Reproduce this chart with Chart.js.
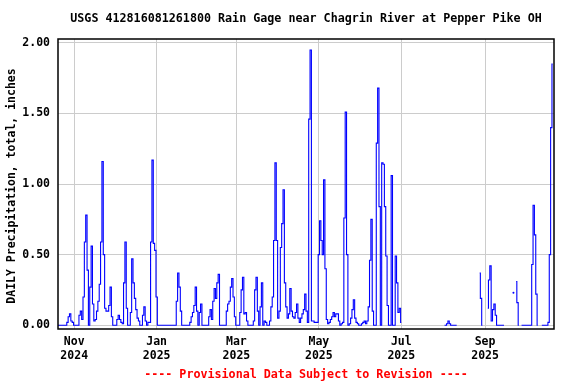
<!DOCTYPE html>
<html><head><meta charset="utf-8">
<script src="https://cdn.jsdelivr.net/npm/chart.js@4.4.1/dist/chart.umd.min.js"></script>
<style>html,body{margin:0;padding:0;background:#fff;}canvas{display:block;}</style>
</head><body>
<canvas id="c" width="576" height="384"></canvas>
<script>
const chartTitle = 'USGS 412816081261800 Rain Gage near Chagrin River at Pepper Pike OH';
const yAxisTitle = 'DAILY Precipitation, total, inches';
const footerNote = '---- Provisional Data Subject to Revision ----';

// Daily precipitation (inches), first value = 2024-10-20; null = no data
const oct2024 = [0,0,0,0,0,0,0,0.02,0.06,0.08,0.03,0.02];
const nov2024 = [0,0,0,0,0.07,0.1,0.04,0.2,0.59,0.78,0.39,0,0.27,0.56,0.15,0.03,0.04,0.1,0.17,0.29,0.59,1.16,0.5,0.12,0.1,0.1,0.14,0.27,0.06,0];
const dec2024 = [0,0,0.04,0.07,0.04,0.02,0.01,0.3,0.59,0.12,0,0,0.09,0.47,0.3,0.19,0.11,0.05,0.03,0,0,0.07,0.13,0.03,0,0.02,0.02,0.59,1.17,0.58,0.53];
const jan2025 = [0.2,0,0,0,0,0,0,0,0,0,0,0,0,0,0,0.17,0.37,0.27,0.1,0,0,0,0,0,0,0.02,0.06,0.09,0.14,0.27,0.1];
const feb2025 = [0,0.09,0.15,0,0,0,0,0,0.06,0.11,0.04,0.17,0.26,0.19,0.3,0.36,0,0,0,0,0,0.1,0.15,0.17,0.27,0.33,0.2,0.06];
const mar2025 = [0,0,0,0.09,0.25,0.34,0.08,0.09,0.03,0,0,0,0,0.03,0.25,0.34,0.1,0,0.13,0.3,0,0.03,0.02,0,0,0.03,0.13,0.2,0.6,1.15,0.6];
const apr2025 = [0.05,0.1,0.55,0.72,0.96,0.3,0.13,0.05,0.08,0.26,0.1,0.06,0.05,0.09,0.15,0.05,0.02,0.05,0.08,0.11,0.22,0.1,0.02,1.46,1.95,0.03,0.03,0.02,0.02,0.02];
const may2025 = [0.5,0.74,0.6,0.5,1.03,0.4,0.04,0.01,0.02,0.04,0.06,0.09,0.06,0.08,0.08,0.03,0,0.01,0.02,0.76,1.51,0.5,0,0.01,0.05,0.11,0.18,0.05,0.02,0.01,0];
const jun2025 = [0,0.01,0.02,0.03,0.01,0.03,0.13,0.46,0.75,0.1,0,0,1.29,1.68,0.84,0,1.15,1.14,0.84,0.49,0.14,0,0,1.06,0,0,0.49,0.3,0.09,0.12];
const jul2025 = [0.02,null,null,null,null,null,null,null,null,null,null,null,null,null,null,null,null,null,null,null,null,null,null,null,null,null,null,null,null,null,null];
const aug2025 = [null,0,0,0.01,0.03,0.01,0,0,0,0,0,null,null,null,null,null,null,null,null,null,null,null,null,null,null,null,null,0.37,0.19,0,null];
const sep2025 = [null,null,0.12,0.32,0.42,0.03,0.11,0.15,0.07,0,0,0,0,0,0,null,null,null,null,null,null,0.23,null,0.31,0.16,0,null,0,0,0];
const oct2025 = [0,0,0,0,0,0.43,0.85,0.64,0.22,0,null,null,0,0,0,0,0,0.02,0.5,1.4,1.85];

const monthTickDates = [[2024,10],[2025,0],[2025,2],[2025,4],[2025,6],[2025,8]];
const monthTickLabels = [['Nov','2024'],['Jan','2025'],['Mar','2025'],['May','2025'],['Jul','2025'],['Sep','2025']];
const yTickValues = [0, 0.5, 1, 1.5, 2];

const DAY = 86400000;
const origin = Date.UTC(2024, 10, 1);
const seriesStart = (Date.UTC(2024, 9, 20) - origin) / DAY;
const values = [].concat(oct2024, nov2024, dec2024, jan2025, feb2025, mar2025, apr2025, may2025, jun2025, jul2025, aug2025, sep2025, oct2025);
const points = values.map((v, i) => ({x: seriesStart + i, y: v}));
const tickDays = monthTickDates.map(([y, m]) => (Date.UTC(y, m, 1) - origin) / DAY);

const MONO = '"DejaVu Sans Mono", "Liberation Mono", monospace';

const decor = {
  id: 'decor',
  afterDraw(chart) {
    const {ctx, chartArea: a} = chart;
    ctx.save();
    ctx.strokeStyle = '#000';
    ctx.lineWidth = 1.5;
    ctx.strokeRect(a.left, a.top, a.right - a.left, a.bottom - a.top);
    ctx.textAlign = 'center';
    ctx.textBaseline = 'middle';
    ctx.font = 'bold 11.7px ' + MONO;
    ctx.fillStyle = '#000';
    ctx.fillText(chartTitle, (a.left + a.right) / 2, 19);
    ctx.fillStyle = '#ff0000';
    ctx.fillText(footerNote, (a.left + a.right) / 2, 375);
    ctx.fillStyle = '#000';
    ctx.font = 'bold 11.5px ' + MONO;
    ctx.translate(12, (a.top + a.bottom) / 2 + 2);
    ctx.rotate(-Math.PI / 2);
    ctx.fillText(yAxisTitle, 0, 0);
    ctx.restore();
  }
};

new Chart(document.getElementById('c'), {
  type: 'line',
  data: {
    datasets: [{
      data: points,
      borderColor: '#0000ff',
      backgroundColor: '#0000ff',
      borderWidth: 1.1,
      stepped: 'middle',
      spanGaps: false,
      fill: false,
      pointBorderWidth: 0,
      pointBackgroundColor: '#0000ff',
      pointRadius: ctx => {
        const i = ctx.dataIndex;
        if (values[i] == null) return 0;
        return (values[i - 1] == null && values[i + 1] == null) ? 1 : 0;
      },
      pointHoverRadius: 0
    }]
  },
  options: {
    responsive: false,
    animation: false,
    devicePixelRatio: 1,
    events: [],
    layout: {padding: {left: 0, right: 22, top: 39, bottom: 0}},
    plugins: {legend: {display: false}, tooltip: {enabled: false}, title: {display: false}},
    scales: {
      x: {
        type: 'linear',
        min: -12,
        max: 355,
        afterBuildTicks: s => { s.ticks = tickDays.map(v => ({value: v})); },
        afterFit: s => { s.height = 55; },
        grid: {color: '#cccccc', lineWidth: 1, drawTicks: false},
        border: {display: false},
        ticks: {
          autoSkip: false, maxRotation: 0, padding: 6, color: '#000',
          font: {family: MONO, size: 11.5, weight: 'bold', lineHeight: 1.2},
          callback: v => { const k = tickDays.indexOf(v); return k >= 0 ? monthTickLabels[k] : ''; }
        }
      },
      y: {
        min: -0.027,
        max: 2.028,
        afterBuildTicks: s => { s.ticks = yTickValues.map(v => ({value: v})); },
        afterFit: s => { s.width = 58; },
        grid: {color: '#cccccc', lineWidth: 1, drawTicks: false},
        border: {display: false},
        ticks: {
          padding: 8, color: '#000',
          font: {family: MONO, size: 11.5, weight: 'bold'},
          callback: v => Number(v).toFixed(2)
        }
      }
    }
  },
  plugins: [decor]
});
</script>
</body></html>
